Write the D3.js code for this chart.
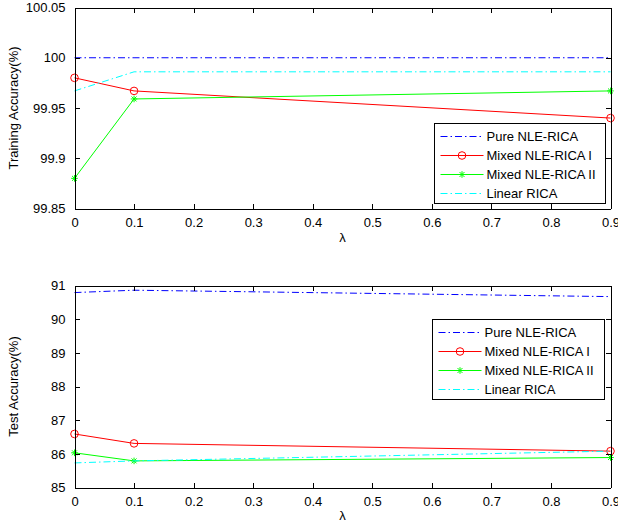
<!DOCTYPE html>
<html>
<head>
<meta charset="utf-8">
<script src="https://cdn.jsdelivr.net/npm/d3@7/dist/d3.min.js"></script>
<style>
  html, body { margin: 0; padding: 0; background: #fff; }
  svg { display: block; font-family: "Liberation Sans", Arial, sans-serif; }
  .axis path, .axis line { stroke: #000; stroke-width: 1; shape-rendering: crispEdges; }
  .axis text { font-size: 13px; fill: #000; }
</style>
</head>
<body>
<svg id="chart" width="618" height="522"></svg>
<script>
// lambda values where the accuracies were measured
const lambdas = [0, 0.1, 0.9];

// training accuracy (%)
const trainPure   = [100.0, 100.0, 100.0];
const trainMixed1 = [99.980, 99.967, 99.940];
const trainMixed2 = [99.880, 99.959, 99.967];
const trainLinear = [99.967, 99.986, 99.986];

// test accuracy (%)
const testPure   = [90.79, 90.86, 90.67];
const testMixed1 = [86.59, 86.31, 86.08];
const testMixed2 = [86.03, 85.79, 85.89];
const testLinear = [85.73, 85.79, 86.08];

// axis ticks
const xTicks = [0, 0.1, 0.2, 0.3, 0.4, 0.5, 0.6, 0.7, 0.8, 0.9];
const trainTicks = [99.85, 99.9, 99.95, 100, 100.05];
const testTicks = [85, 86, 87, 88, 89, 90, 91];

const seriesNames = ["Pure NLE-RICA", "Mixed NLE-RICA I", "Mixed NLE-RICA II", "Linear RICA"];

const styles = [
  { color: "#0000ff", dash: "7,3,1.5,3", marker: null },
  { color: "#ff0000", dash: null, marker: "circle" },
  { color: "#00ff00", dash: null, marker: "star" },
  { color: "#00ffff", dash: "7,3,1.5,3", marker: null }
];

const svg = d3.select("#chart");

function drawMarker(g, type, cx, cy, color) {
  if (type === "circle") {
    g.append("circle").attr("cx", cx).attr("cy", cy).attr("r", 3.8)
      .attr("fill", "none").attr("stroke", color).attr("stroke-width", 1);
  } else if (type === "star") {
    const s = 3.3;
    const d = `M${cx - s},${cy}H${cx + s}M${cx},${cy - s}V${cy + s}` +
      `M${cx - s * 0.75},${cy - s * 0.75}L${cx + s * 0.75},${cy + s * 0.75}` +
      `M${cx - s * 0.75},${cy + s * 0.75}L${cx + s * 0.75},${cy - s * 0.75}`;
    g.append("path").attr("d", d).attr("stroke", color).attr("stroke-width", 1).attr("fill", "none");
  }
}

function panel(opts) {
  const { top, bottom, left, right, yDomain, yTicks, yLabel, series, legend, xLabelY } = opts;
  const x = d3.scaleLinear().domain([0, 0.9]).range([left, right]);
  const y = d3.scaleLinear().domain(yDomain).range([bottom, top]);
  const g = svg.append("g");

  // data lines
  series.forEach((vals, i) => {
    const st = styles[i];
    const pts = lambdas.map((l, j) => [x(l), y(vals[j])]);
    g.append("path")
      .attr("d", d3.line()(pts))
      .attr("fill", "none")
      .attr("stroke", st.color)
      .attr("stroke-width", 1)
      .attr("stroke-dasharray", st.dash);
    if (st.marker) pts.forEach(p => drawMarker(g, st.marker, p[0], p[1], st.color));
  });

  // box with inward ticks on every side
  const fmt = v => String(v);
  g.append("g").attr("class", "axis").attr("transform", `translate(0,${bottom})`)
    .call(d3.axisBottom(x).tickValues(xTicks).tickFormat(fmt).tickSizeInner(-5).tickSizeOuter(0).tickPadding(9));
  g.append("g").attr("class", "axis").attr("transform", `translate(0,${top})`)
    .call(d3.axisTop(x).tickValues(xTicks).tickFormat("").tickSizeInner(-5).tickSizeOuter(0));
  g.append("g").attr("class", "axis").attr("transform", `translate(${left},0)`)
    .call(d3.axisLeft(y).tickValues(yTicks).tickFormat(fmt).tickSizeInner(-5).tickSizeOuter(0).tickPadding(9));
  g.append("g").attr("class", "axis").attr("transform", `translate(${right},0)`)
    .call(d3.axisRight(y).tickValues(yTicks).tickFormat("").tickSizeInner(-5).tickSizeOuter(0));

  // axis labels
  g.append("text")
    .attr("transform", `translate(18,${(top + bottom) / 2}) rotate(-90)`)
    .attr("text-anchor", "middle").attr("font-size", 13).text(yLabel);
  g.append("text")
    .attr("x", (left + right) / 2).attr("y", xLabelY)
    .attr("text-anchor", "middle").attr("font-size", 13).text("λ");

  // legend
  const lg = g.append("g");
  lg.append("rect")
    .attr("x", legend.x).attr("y", legend.y).attr("width", legend.w).attr("height", legend.h)
    .attr("fill", "#fff").attr("stroke", "#000").attr("stroke-width", 1)
    .attr("shape-rendering", "crispEdges");
  seriesNames.forEach((name, i) => {
    const st = styles[i];
    const cy = legend.y + 13 + i * 19;
    const x0 = legend.x + 6, x1 = legend.x + 49;
    lg.append("line").attr("x1", x0).attr("x2", x1).attr("y1", cy).attr("y2", cy)
      .attr("stroke", st.color).attr("stroke-width", 1).attr("stroke-dasharray", st.dash);
    if (st.marker) drawMarker(lg, st.marker, (x0 + x1) / 2, cy, st.color);
    lg.append("text").attr("x", legend.x + 52).attr("y", cy).attr("dy", "0.35em")
      .attr("font-size", 13).text(name);
  });
}

panel({
  top: 7.5, bottom: 208.5, left: 74.5, right: 610.5,
  yDomain: [99.85, 100.05], yTicks: trainTicks, yLabel: "Training Accuracy(%)",
  series: [trainPure, trainMixed1, trainMixed2, trainLinear],
  legend: { x: 434.5, y: 123.5, w: 171, h: 80 },
  xLabelY: 242
});

panel({
  top: 285.5, bottom: 487.5, left: 74.5, right: 610.5,
  yDomain: [85, 91], yTicks: testTicks, yLabel: "Test Accuracy(%)",
  series: [testPure, testMixed1, testMixed2, testLinear],
  legend: { x: 432.5, y: 319.5, w: 172, h: 80 },
  xLabelY: 520
});
</script>
</body>
</html>
